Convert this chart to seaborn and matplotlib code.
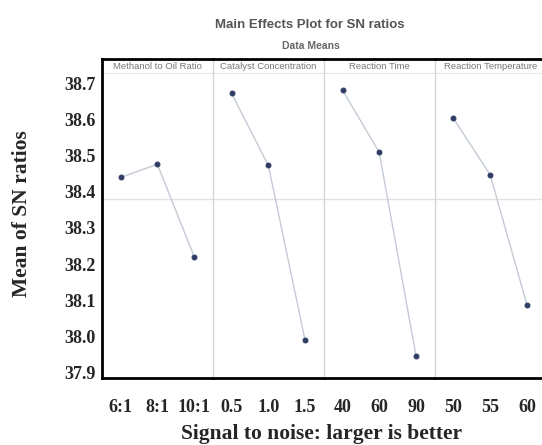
import numpy as np
import pandas as pd
import matplotlib
matplotlib.use("Agg")
import matplotlib.pyplot as plt
import seaborn as sns

# ---- data ----
factors = ["Methanol to Oil Ratio", "Catalyst Concentration", "Reaction Time", "Reaction Temperature"]
methanol_levels = ["6:1", "8:1", "10:1"]
methanol_sn = [38.44, 38.476, 38.221]
catalyst_levels = ["0.5", "1.0", "1.5"]
catalyst_sn = [38.672, 38.473, 37.990]
time_levels = ["40", "60", "90"]
time_sn = [38.681, 38.509, 37.947]
temp_levels = ["50", "55", "60"]
temp_sn = [38.603, 38.447, 38.088]
y_ticks = [37.9, 38.0, 38.1, 38.2, 38.3, 38.4, 38.5, 38.6, 38.7]

all_levels = [methanol_levels, catalyst_levels, time_levels, temp_levels]
all_sn = [methanol_sn, catalyst_sn, time_sn, temp_sn]

rows = []
for f, lv, sn in zip(factors, all_levels, all_sn):
    for l, v in zip(lv, sn):
        rows.append({"Factor": f, "Level": l, "SN": v})
df = pd.DataFrame(rows)
grand_mean = df.groupby("Factor")["SN"].mean().mean()

sns.set_style("white")
plt.rcParams["font.family"] = ["Liberation Serif", "DejaVu Serif"]

W, H = 542, 445
fig, axes = plt.subplots(1, 4, sharey=True, figsize=(W / 100, H / 100), dpi=100,
                         gridspec_kw={"wspace": 0})
fig.subplots_adjust(left=102.3 / W, right=546 / W, top=1 - 58.7 / H, bottom=1 - 377.7 / H)

line_col = "#c3cbd6"
dot_col = "#2e3d63"
sep_col = "#d6d6d6"
sans = ["Liberation Sans Narrow", "Liberation Sans", "DejaVu Sans"]

for i, (ax, f, lv) in enumerate(zip(axes, factors, all_levels)):
    sub = df[df["Factor"] == f]
    sns.pointplot(data=sub, x="Level", y="SN", order=lv, ax=ax, errorbar=None,
                  color=dot_col, markersize=3.5, linewidth=1.0)
    for ln in ax.lines:
        ln.set_color(line_col)
        ln.set_markerfacecolor(dot_col)
        ln.set_markeredgecolor(dot_col)
        ln.set_zorder(3)
    ax.axhline(grand_mean, color="#e2e2e2", lw=1.0, zorder=1)
    ax.set_xlim(-0.5, 2.52)
    ax.set_ylim(37.886, 38.768)
    ax.set_xlabel("")
    ax.set_ylabel("")
    ax.tick_params(axis="both", length=0)
    ax.tick_params(axis="x", pad=15)
    ax.tick_params(axis="y", pad=5)
    for t in ax.get_xticklabels():
        t.set_fontweight("bold")
        t.set_fontsize(13)
    # spines
    ax.spines["top"].set_color("black")
    ax.spines["top"].set_linewidth(2)
    ax.spines["bottom"].set_color("black")
    ax.spines["bottom"].set_linewidth(2)
    ax.spines["right"].set_visible(False)
    if i == 0:
        ax.spines["left"].set_color("black")
        ax.spines["left"].set_linewidth(2)
    else:
        ax.spines["left"].set_color(sep_col)
        ax.spines["left"].set_linewidth(1.0)
    # strip header inside panel
    ax.plot([0, 1], [0.955, 0.955], transform=ax.transAxes, color="#e6e6e6", lw=0.8)
    ax.text(0.5, 0.976, f, transform=ax.transAxes, ha="center", va="center",
            fontsize=6.8, color="#777777", family=sans)

axes[0].set_yticks(y_ticks)
axes[0].set_yticklabels([f"{v:.1f}" for v in y_ticks], fontweight="bold", fontsize=13)

fig.text(22 / W, 1 - 214 / H, "Mean of SN ratios", rotation=90, ha="center", va="center",
         fontsize=15.5, fontweight="bold")
fig.text(322 / W, 1 - 434 / H, "Signal to noise: larger is better", ha="center", va="center",
         fontsize=15.5, fontweight="bold")
fig.text(310 / W, 1 - 25 / H, "Main Effects Plot for SN ratios", ha="center", va="center",
         fontsize=9.5, fontweight="bold", color="#555555", family=sans)
fig.text(311 / W, 1 - 46 / H, "Data Means", ha="center", va="center",
         fontsize=7.5, fontweight="bold", color="#666666", family=sans)

fig.savefig("out.png", dpi=100)
